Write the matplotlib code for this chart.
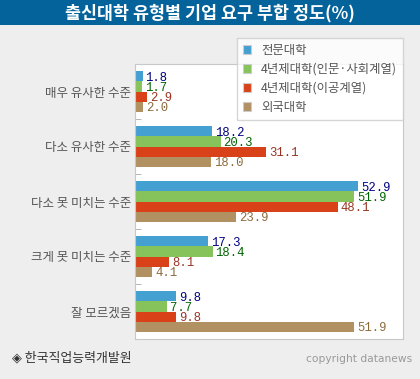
import matplotlib
matplotlib.use("Agg")
import matplotlib.pyplot as plt
from matplotlib.patches import Patch, Rectangle
import numpy as np

plt.rcParams['font.family'] = ['Noto Sans CJK KR', 'DejaVu Sans']

# data
categories = ['매우 유사한 수준', '다소 유사한 수준', '다소 못 미치는 수준',
              '크게 못 미치는 수준', '잘 모르겠음']
series_names = ['전문대학', '4년제대학(인문·사회계열)', '4년제대학(이공계열)', '외국대학']
junmun = [1.8, 18.2, 52.9, 17.3, 9.8]
insa = [1.7, 20.3, 51.9, 18.4, 7.7]
igong = [2.9, 31.1, 48.1, 8.1, 9.8]
oeguk = [2.0, 18.0, 23.9, 4.1, 51.9]

values = [junmun, insa, igong, oeguk]
colors = ['#45a0d2', '#86c35a', '#d94219', '#b19062']
label_colors = ['#000080', '#006400', '#993322', '#8b6a3a']

fig = plt.figure(figsize=(4.2, 3.79), dpi=100)
fig.patch.set_facecolor('#eeeeee')

# title bar
fig.patches.append(Rectangle((0, 1 - 25 / 379), 1, 25 / 379, transform=fig.transFigure,
                             facecolor='#03639a', edgecolor='none', zorder=0))
fig.text(0.5, 1 - 13 / 379, '출신대학 유형별 기업 요구 부합 정도(%)', color='white',
         fontsize=12.5, fontweight='bold', ha='center', va='center')

ax = fig.add_axes([135 / 420, 1 - 339 / 379, 268 / 420, 275 / 379])
ax.set_facecolor('white')

y = np.arange(len(categories))
h = 0.182
for i, vals in enumerate(values):
    pos = y + (i - 1.5) * h
    ax.barh(pos, vals, height=h, color=colors[i], edgecolor='none')
    for p, v in zip(pos, vals):
        ax.annotate(f'{v:.1f}', (v, p), xytext=(2, -1), textcoords='offset points',
                    ha='left', va='center', fontsize=8.8, color=label_colors[i],
                    family='Liberation Mono')

ax.set_xlim(0, 63.5)
ax.set_ylim(4.5, -0.5)
ax.set_xticks([])
ax.set_yticks(y)
ax.set_yticklabels(categories, fontsize=9, color='#555555')
ax.tick_params(axis='y', which='major', length=0, pad=3)
ax.set_yticks([0.5, 1.5, 2.5, 3.5], minor=True)
ax.tick_params(axis='y', which='minor', direction='in', length=4, color='#aaaaaa')
for s in ax.spines.values():
    s.set_color('#c8c8c8')

handles = [Patch(facecolor=c, edgecolor='#cccccc', linewidth=0.8) for c in colors]
leg = fig.legend(handles, series_names, loc='upper left',
                 bbox_to_anchor=(237 / 420, 1 - 38 / 379), borderaxespad=0,
                 fontsize=8.9, frameon=True, fancybox=False, handlelength=0.7,
                 handleheight=0.7, handletextpad=0.8, labelspacing=0.5,
                 borderpad=0.45, labelcolor='#555555')
leg.get_frame().set_edgecolor('#cccccc')
leg.get_frame().set_linewidth(1)

fig.text(12 / 420, 1 - 358 / 379, '◈ 한국직업능력개발원', fontsize=9.3, color='#333333',
         ha='left', va='center')
fig.text(412 / 420, 1 - 359 / 379, 'copyright datanews', fontsize=7.7, color='#999999',
         ha='right', va='center', family='DejaVu Sans')

fig.savefig('out.png', dpi=100, facecolor=fig.get_facecolor())
